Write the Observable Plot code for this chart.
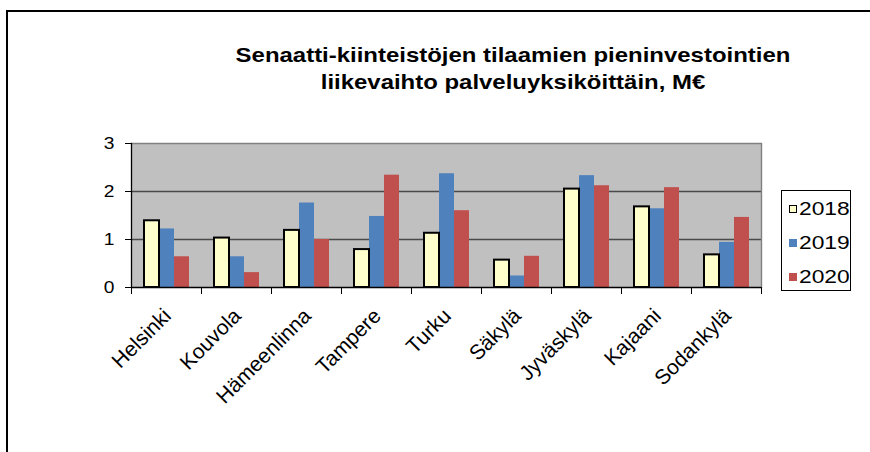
<!DOCTYPE html>
<html><head><meta charset="utf-8">
<script src="https://cdn.jsdelivr.net/npm/d3@7"></script>
<script src="https://cdn.jsdelivr.net/npm/@observablehq/plot@0.6"></script>
<style>
body{margin:0;background:#fff;font-family:"Liberation Sans",Arial,sans-serif;}
#wrap{position:relative;width:870px;height:452px;overflow:hidden;background:#fff;}
#border{position:absolute;left:6px;top:10px;right:-4px;bottom:-4px;border-top:2px solid #000;border-left:2px solid #000;pointer-events:none;}
#title{position:absolute;left:213px;width:600px;top:41px;text-align:center;font-weight:bold;font-size:21px;line-height:27px;transform:scaleX(1.14);color:#000;}
#legend{position:absolute;left:781px;top:190px;width:70px;height:101px;border:1px solid #000;box-sizing:border-box;background:#fff;}
.item{position:absolute;left:7px;height:22px;display:flex;align-items:center;font-size:19px;color:#000;}
.sw{width:8px;height:8px;box-sizing:border-box;margin-right:2px;flex:none;}
.lt{display:inline-block;transform:scaleX(1.2);transform-origin:left center;}
#chart{position:absolute;left:0;top:0;}
</style></head>
<body>
<div id="wrap">
  <div id="chart"></div>
  <div id="border"></div>
  <div id="title">Senaatti-kiinteistöjen tilaamien pieninvestointien<br>liikevaihto palveluyksiköittäin, M€</div>
  <div id="legend"></div>
</div>
<script>
const cities = ["Helsinki","Kouvola","Hämeenlinna","Tampere","Turku","Säkylä","Jyväskylä","Kajaani","Sodankylä"];
const years = ["2018","2019","2020"];
const v2018 = [1.39,1.03,1.19,0.79,1.13,0.57,2.05,1.68,0.68];
const v2019 = [1.22,0.64,1.76,1.48,2.37,0.24,2.33,1.64,0.94];
const v2020 = [0.64,0.31,1.00,2.34,1.60,0.65,2.12,2.08,1.46];
const colors = ["#FFFFCC","#4F81BD","#C0504D"];
const yTicks = [0,1,2,3];

const series = [v2018, v2019, v2020];
const rows = cities.flatMap((c, i) => years.map((y, j) => ({city: c, year: y, value: series[j][i]})));

const W = 870, H = 452, mL = 131, mR = 109, mT = 143, mB = 165;
const innerH = H - mT - mB;

const chart = Plot.plot({
  width: W, height: H,
  marginLeft: mL, marginRight: mR, marginTop: mT, marginBottom: mB,
  style: {background: "transparent", fontFamily: "'Liberation Sans', Arial, sans-serif", color: "#000"},
  facet: {data: rows, x: "city"},
  fx: {domain: cities, padding: 0, label: null},
  x: {domain: years, paddingInner: 0, paddingOuter: 0.78, axis: null},
  y: {domain: [0, 3], label: null},
  color: {domain: years, range: colors},
  marks: [
    Plot.frame({fill: "#C0C0C0", stroke: "#C0C0C0"}),
    Plot.gridY({ticks: [1, 2], stroke: "#4a4a4a", strokeOpacity: 1, strokeWidth: 1.4}),
    Plot.ruleY([3], {stroke: "#808080", strokeWidth: 1.4}),
    Plot.frame({anchor: "right", facetAnchor: "right", stroke: "#808080", strokeWidth: 1.4, ariaLabel: "right-edge"}),
    Plot.barY(rows, {x: "year", y: "value", fill: "year", filter: d => d.year !== "2018"}),
    Plot.barY(rows, {x: "year", y: "value", fill: "year", stroke: "#000", strokeWidth: 2, filter: d => d.year === "2018"}),
    Plot.ruleY([0], {stroke: "#000", strokeWidth: 1.5}),
    Plot.frame({anchor: "left", facetAnchor: "left", stroke: "#000", strokeWidth: 1.3, ariaLabel: "left-edge"}),
    Plot.frame({anchor: "left", insetTop: innerH, insetBottom: -6, stroke: "#000"}),
    Plot.frame({anchor: "right", insetTop: innerH, insetBottom: -6, stroke: "#000"}),
    Plot.axisY({ticks: yTicks, tickSize: 6, tickPadding: 11, fontSize: 16, tickFormat: d => String(d), label: null}),
    Plot.axisFx({anchor: "bottom", tickRotate: -45, tickSize: 0, tickPadding: 25, dx: 1, fontSize: 21, label: null})
  ]
});
document.getElementById("chart").appendChild(chart);

// keep only one copy of the edge lines, in case they were repeated per facet
const re = chart.querySelectorAll('[aria-label="right-edge"]');
re.forEach((n, i) => { if (i < re.length - 1) n.remove(); });
const le = chart.querySelectorAll('[aria-label="left-edge"]');
le.forEach((n, i) => { if (i > 0) n.remove(); });

function stretch(sel, k) {
  sel.each(function() {
    const t = this.getAttribute("transform") || "";
    const m = t.match(/^translate\(([^)]*)\)(.*)$/);
    if (m) this.setAttribute("transform", `translate(${m[1]}) scale(${k},1)${m[2]}`);
    else {
      const x = +this.getAttribute("x") || 0, y = +this.getAttribute("y") || 0;
      this.setAttribute("transform", `translate(${x},${y}) scale(${k},1) translate(${-x},${-y}) ${t}`);
    }
  });
}
stretch(d3.select(chart).selectAll('g[aria-label="y-axis tick label"] text'), 1.2);

const legend = d3.select("#legend");
years.forEach((y, i) => {
  const it = legend.append("div").attr("class", "item").style("top", (7 + i * 34) + "px");
  it.append("div").attr("class", "sw")
    .style("background", colors[i])
    .style("border", i === 0 ? "1.5px solid #000" : "none");
  it.append("span").attr("class", "lt").text(y);
});
</script>
</body></html>
